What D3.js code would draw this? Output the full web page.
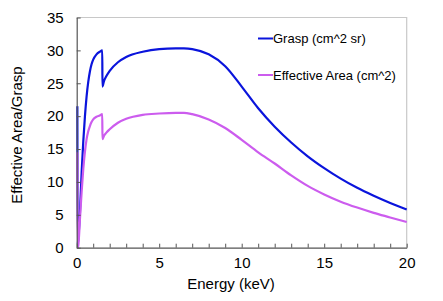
<!DOCTYPE html>
<html>
  <head>
    <meta charset="utf-8">
    <title>Effective Area / Grasp</title>
    <script src="https://cdnjs.cloudflare.com/ajax/libs/d3/7.8.5/d3.min.js"></script>
    <style>
      body { margin: 0; background: #fff; }
      text { font-family: "Liberation Sans", Arial, sans-serif; fill: #000; }
    </style>
  </head>
  <body>

    <svg class="chart" width="443" height="301"></svg>

    <script>

      // energy (keV) sample points
      var energy = [0.04, 0.06, 0.1, 0.2, 0.3, 0.4, 0.5, 0.6, 0.7, 0.8, 0.9, 1.0, 1.2, 1.4, 1.55,
                    1.56, 1.65, 1.8, 2.0, 2.5, 3, 4, 5, 6, 6.5, 7, 8, 9, 10, 11, 12, 13, 14, 15, 16, 17, 18, 19, 20];

      var grasp = [21.5, 0.5, 1.5, 5.5, 11.5, 16.2, 20.0, 23.0, 25.2, 26.8, 27.9, 28.6, 29.4, 29.8, 30.0,
                   24.5, 25.3, 26.1, 26.9, 28.2, 29.0, 29.8, 30.2, 30.3, 30.3, 30.2, 29.4, 27.6, 24.5, 21.2, 18.4, 16.0, 13.9, 12.1, 10.5, 9.1, 7.9, 6.8, 5.8];

      var effArea = [14.5, 0, 0.4, 4.5, 8.5, 12.0, 14.6, 16.5, 17.7, 18.5, 19.1, 19.5, 19.9, 20.1, 20.3,
                     16.5, 17.0, 17.5, 18.0, 19.0, 19.6, 20.2, 20.4, 20.5, 20.5, 20.3, 19.5, 18.2, 16.4, 14.5, 12.8, 11.0, 9.4, 8.1, 7.0, 6.1, 5.3, 4.6, 3.9];

      var seriesNames = ["Grasp (cm^2 sr)", "Effective Area (cm^2)"];
      var seriesColors = ["#0a14dc", "#cc5cee"];
      var xTicks = [0, 5, 10, 15, 20];
      var yTicks = [0, 5, 10, 15, 20, 25, 30, 35];

      var plotL = 76.7, plotR = 406.7, plotT = 17.5, plotB = 247.7;

      var x = d3.scaleLinear().domain([0, 20]).range([plotL, plotR]);
      var y = d3.scaleLinear().domain([0, 35]).range([plotB, plotT]);

      var svg = d3.select("svg.chart");

      // light frame on top/right
      svg.append("path")
        .attr("d", "M" + plotL + "," + plotT + "H" + plotR + "V" + plotB)
        .attr("fill", "none")
        .attr("stroke", "#c8c8c8")
        .attr("stroke-width", 1.2);

      // series
      var series = [grasp, effArea];
      var line = d3.line()
        .x(function(d, i){ return x(energy[i]); })
        .y(function(d){ return y(d); })
        .curve(d3.curveMonotoneX);

      svg.selectAll("path.series")
        .data(series)
        .enter()
          .append("path")
            .attr("class", "series")
            .attr("d", line)
            .attr("fill", "none")
            .attr("stroke", function(d, i){ return seriesColors[i]; })
            .attr("stroke-width", 2.2)
            .attr("stroke-linejoin", "round");

      // axes
      var xAxis = d3.axisBottom(x).tickValues(d3.range(0, 21, 1)).tickSizeInner(-4).tickSizeOuter(0)
        .tickFormat(function(d){ return xTicks.indexOf(d) >= 0 ? d : ""; });
      var gx = svg.append("g").attr("transform", "translate(0," + plotB + ")").call(xAxis);
      gx.select(".domain").attr("stroke", "#555").attr("stroke-width", 1.2);
      gx.selectAll(".tick line").attr("stroke", "#555");
      gx.selectAll(".tick text").attr("y", 20).attr("dy", 0).style("font-size", "15px")
        .style("font-family", "Liberation Sans, Arial, sans-serif");

      var yAxis = d3.axisLeft(y).tickValues(yTicks).tickSizeInner(-4).tickSizeOuter(0);
      var gy = svg.append("g").attr("transform", "translate(" + plotL + ",0)").call(yAxis);
      gy.select(".domain").attr("stroke", "#555").attr("stroke-width", 1.2);
      gy.selectAll(".tick line").attr("stroke", "#555");
      gy.selectAll(".tick text").attr("x", -13).style("font-size", "15px")
        .style("font-family", "Liberation Sans, Arial, sans-serif");

      // axis titles
      svg.append("text")
        .attr("x", 231).attr("y", 289)
        .attr("text-anchor", "middle")
        .style("font-size", "15px")
        .text("Energy (keV)");

      svg.append("text")
        .attr("transform", "translate(22,135) rotate(-90)")
        .attr("text-anchor", "middle")
        .style("font-size", "15px")
        .text("Effective Area/Grasp");

      // legend
      var legend = svg.append("g").attr("class", "legend")
        .selectAll("g")
        .data(seriesNames)
        .enter()
          .append("g")
            .attr("transform", function(d, i){ return "translate(258," + (38.5 + i * 36.5) + ")"; });

      legend.append("line")
        .attr("x1", 0).attr("x2", 15).attr("y1", 0).attr("y2", 0)
        .attr("stroke", function(d, i){ return seriesColors[i]; })
        .attr("stroke-width", 2);

      legend.append("text")
        .attr("x", 15).attr("y", 4.5)
        .style("font-size", "13px")
        .text(function(d){ return d; });

    </script>
  </body>
</html>
